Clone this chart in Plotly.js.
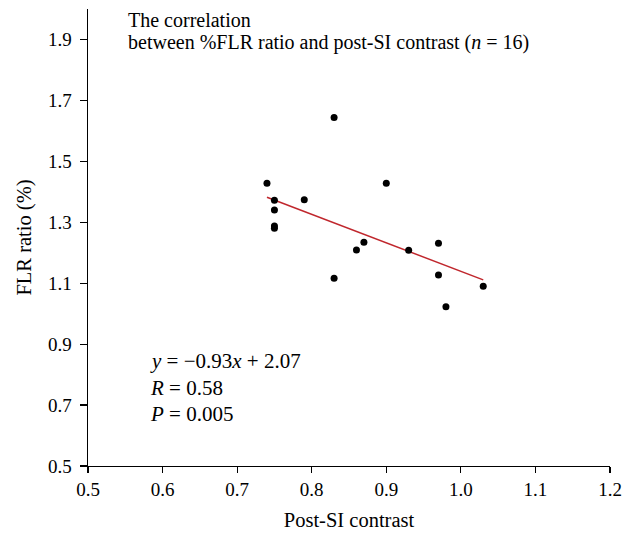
<!DOCTYPE html>
<html>
<head>
<meta charset="utf-8">
<script src="https://cdn.plot.ly/plotly-3.0.1.min.js"></script>
<style>html,body{margin:0;padding:0;background:#fff;}</style>
</head>
<body>
<div id="chart" style="width:635px;height:533px;"></div>
<script>
// Post-SI contrast (x) and FLR ratio % (y), n = 16
const postSI = [0.74, 0.75, 0.75, 0.75, 0.75, 0.79, 0.83, 0.83, 0.86, 0.87, 0.90, 0.93, 0.97, 0.97, 0.98, 1.03];
const flrRatio = [1.428, 1.372, 1.340, 1.288, 1.280, 1.374, 1.644, 1.116, 1.209, 1.234, 1.428, 1.208, 1.231, 1.127, 1.023, 1.090];
// Regression line endpoints (y = -0.93x + 2.07)
const fitX = [0.74, 1.03];
const fitY = [1.382, 1.111];
const xTicks = [0.5, 0.6, 0.7, 0.8, 0.9, 1.0, 1.1, 1.2];
const yTicks = [0.5, 0.7, 0.9, 1.1, 1.3, 1.5, 1.7, 1.9];
const titleLines = ["The correlation", "between %FLR ratio and post-SI contrast (<i>n</i> = 16)"];
const statLines = ["<i>y</i> = \u22120.93<i>x</i> + 2.07", "<i>R</i> = 0.58", "<i>P</i> = 0.005"];

const serif = "Liberation Serif, Times New Roman, serif";

const traces = [
  {x: fitX, y: fitY, mode: "lines", type: "scatter",
   line: {color: "#c0272d", width: 1.5}, hoverinfo: "skip", showlegend: false},
  {x: postSI, y: flrRatio, mode: "markers", type: "scatter",
   marker: {color: "#000", size: 7}, showlegend: false}
];

const annotations = [];
const titleShift = [-10.5, -33];
titleLines.forEach((t, i) => annotations.push({
  text: t, xref: "paper", yref: "paper", x: 0.0728, y: 1, yshift: titleShift[i],
  xanchor: "left", yanchor: "middle", showarrow: false,
  font: {family: serif, size: 20, color: "#000"}
}));
const statShift = [105, 78.5, 52];
statLines.forEach((t, i) => annotations.push({
  text: t, xref: "paper", yref: "paper", x: 0.115, y: 0, yshift: statShift[i],
  xanchor: "left", yanchor: "middle", showarrow: false,
  font: {family: serif, size: 21, color: "#000"}
}));

const layout = {
  width: 635, height: 533,
  margin: {l: 88, r: 25, t: 9, b: 67},
  paper_bgcolor: "#fff", plot_bgcolor: "#fff",
  font: {family: serif, color: "#000", size: 19},
  xaxis: {
    range: [0.5, 1.2], tickvals: xTicks, tickformat: ".1f",
    showline: true, linecolor: "#000", linewidth: 1.4,
    ticks: "outside", ticklen: 6, tickwidth: 1.2, tickcolor: "#000",
    showgrid: false, zeroline: false, automargin: false,
    tickfont: {family: serif, size: 19, color: "#000"},
    title: {text: "Post-SI contrast", font: {family: serif, size: 20.5, color: "#000"}, standoff: 13}
  },
  yaxis: {
    range: [0.5, 2.0], tickvals: yTicks, tickformat: ".1f",
    showline: true, linecolor: "#000", linewidth: 1.4,
    ticks: "outside", ticklen: 7, tickwidth: 1.2, tickcolor: "#000",
    showgrid: false, zeroline: false, automargin: false,
    ticklabelstandoff: 4,
    tickfont: {family: serif, size: 19, color: "#000"},
    title: {text: "FLR ratio (%)", font: {family: serif, size: 20.5, color: "#000"}, standoff: 11}
  },
  annotations: annotations
};

Plotly.newPlot("chart", traces, layout, {displayModeBar: false, staticPlot: true});
</script>
</body>
</html>
